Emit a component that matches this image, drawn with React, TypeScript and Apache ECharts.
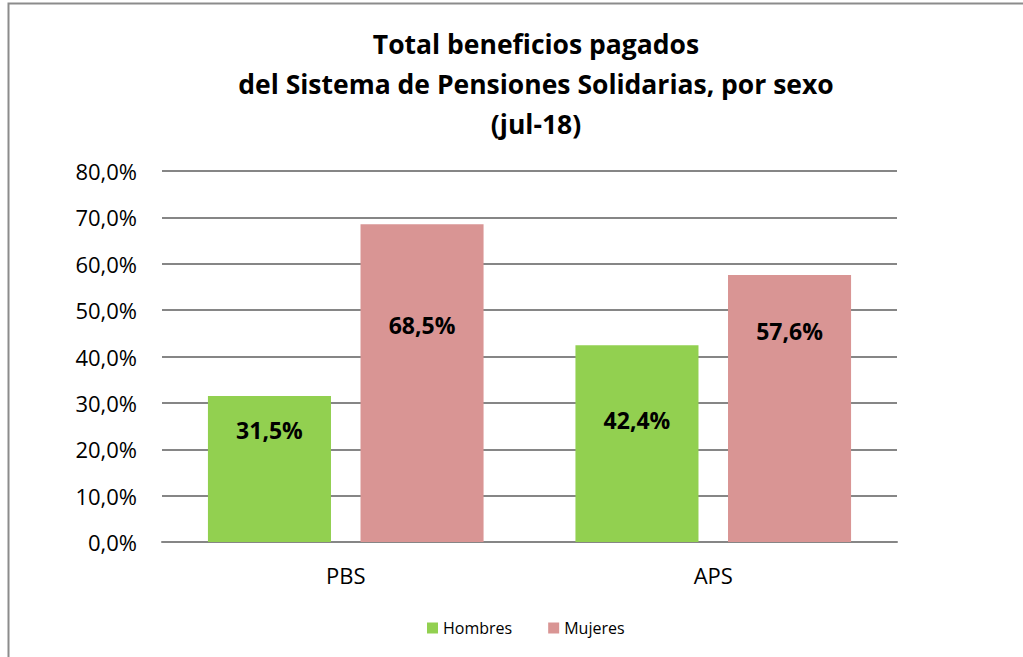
import React, { useEffect, useRef } from "react";
import * as echarts from "echarts";

const categories = ["PBS", "APS"];
const hombres = [31.5, 42.4];
const mujeres = [68.5, 57.6];
const titleLines = ["Total beneficios pagados", "del Sistema de Pensiones Solidarias, por sexo", "(jul-18)"];

const FONT = "'Open Sans', 'Noto Sans', sans-serif";
const fmt = (v: number) => v.toFixed(1).replace(".", ",") + "%";

export default function App() {
  const ref = useRef<HTMLDivElement>(null);
  useEffect(() => {
    const chart = echarts.init(ref.current!, null, { renderer: "svg" });
    const hOff = [-39, -24];
    const mOff = [-58, -77];
    const mk = (vals: number[], offs: number[]) =>
      vals.map((v, i) => ({
        value: v,
        label: { offset: [0, offs[i]] },
      }));
    const labelStyle = {
      show: true,
      position: "inside",
      fontFamily: FONT,
      fontSize: 23,
      fontWeight: "bold",
      color: "#000",
      formatter: (p: any) => fmt(p.value),
    };
    chart.setOption({
      animation: false,
      backgroundColor: "#fff",
      title: {
        text: titleLines.join("\n"),
        left: 531,
        textAlign: "center",
        top: 19,
        textStyle: { fontFamily: FONT, fontSize: 26.5, fontWeight: "bold", color: "#000", lineHeight: 40 },
      },
      graphic: [
        {
          type: "rect",
          shape: { x: 8.5, y: 3.5, width: 1040, height: 700 },
          style: { fill: "none", stroke: "#8c8c8c", lineWidth: 2 },
          silent: true,
        },
      ],
      legend: {
        bottom: 16,
        left: 422,
        itemWidth: 11,
        itemHeight: 11,
        itemGap: 36,
        icon: "rect",
        textStyle: { fontFamily: FONT, fontSize: 16, color: "#000" },
        data: ["Hombres", "Mujeres"],
      },
      grid: { left: 162, right: 126, top: 171, bottom: 115, containLabel: false },
      xAxis: {
        type: "category",
        data: categories,
        axisLine: { lineStyle: { color: "#868686", width: 2 } },
        axisTick: { show: false },
        axisLabel: { fontFamily: FONT, fontSize: 22, color: "#000", margin: 22 },
      },
      yAxis: {
        type: "value",
        min: 0,
        max: 80,
        interval: 10,
        axisLine: { show: false },
        axisTick: { show: false },
        splitLine: { lineStyle: { color: "#868686", width: 2 } },
        axisLabel: { fontFamily: FONT, fontSize: 22, color: "#000", margin: 25, formatter: (v: number) => fmt(v) },
      },
      series: [
        {
          name: "Hombres",
          type: "bar",
          data: mk(hombres, hOff),
          itemStyle: { color: "#92D050" },
          barGap: "24%",
          barCategoryGap: "25%",
          label: labelStyle,
        },
        {
          name: "Mujeres",
          type: "bar",
          data: mk(mujeres, mOff),
          itemStyle: { color: "#D99594" },
          label: labelStyle,
        },
      ],
    });
    return () => chart.dispose();
  }, []);
  return <div ref={ref} style={{ width: 1023, height: 657, position: "absolute", left: 0, top: 0 }} />;
}
